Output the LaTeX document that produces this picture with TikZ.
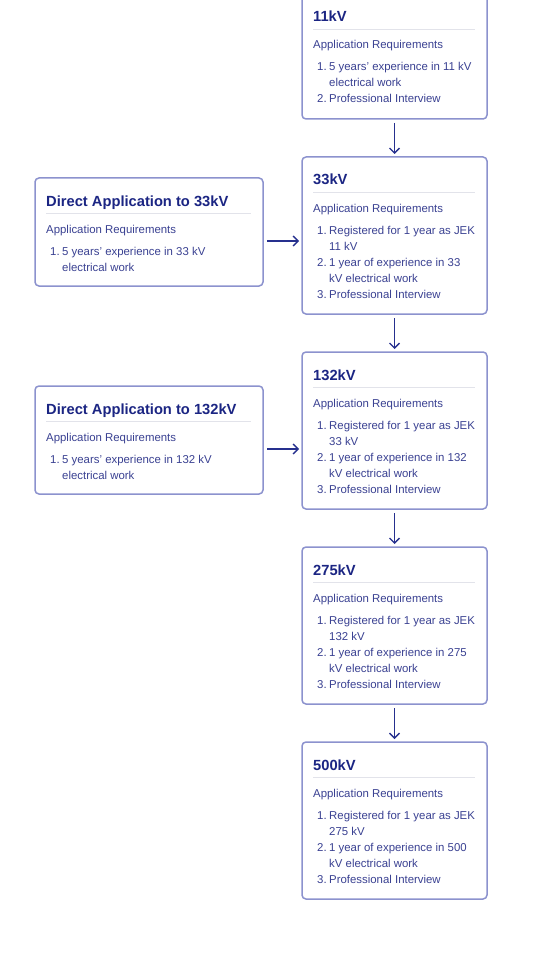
\documentclass[tikz,border=0pt]{standalone}
\usepackage{fontspec}
\setmainfont{Liberation Sans}
\usetikzlibrary{arrows.meta}
\definecolor{ttl}{HTML}{1B2583}
\definecolor{bdy}{HTML}{3A4192}
\definecolor{brd}{HTML}{8C92CE}
\definecolor{sep}{HTML}{E2E3EA}
\definecolor{arw}{HTML}{26308E}
\tikzset{
  box/.style={draw=brd, line width=1.5pt, rounded corners=4pt, fill=white, inner sep=0pt, outer sep=0pt},
  ttlstyle/.style={font=\bfseries\fontsize{14.7}{16}\selectfont, text=ttl, inner sep=0pt, anchor=base west},
  bdystyle/.style={font=\fontsize{11.4}{16}\selectfont, text=bdy, inner sep=0pt, anchor=base west},
  seprule/.style={draw=sep, line width=0.9pt},
  arr/.style={draw=arw, line width=1.4pt, -{Straight Barb[length=5pt,width=10pt]}}
}
\newcommand\mybox[5]{\node[box, minimum width=#4, minimum height=#5, anchor=north west] (#1) at (#2,#3) {};}
\newcommand\mytxt[4]{\node[bdystyle] (#1) at ([shift={(#3)}]#2.north west) {#4};}
\newcommand\myttl[3]{\node[ttlstyle] (#1) at ([shift={(11,28)}]#2.north west) {#3};}
\newcommand\mysep[2]{\coordinate (#1a) at ([shift={(11,35)}]#2.north west); \coordinate (#1b) at ([shift={(-12,35)}]#2.north east); \draw[seprule] (#1a) -- (#1b);}
\begin{document}
\begin{tikzpicture}[x=1pt,y=-1pt]
\path[use as bounding box, fill=white] (0,0) rectangle (540,960);
% 11kV
\mybox{b11}{302}{-6}{185}{125}
\myttl{b11t}{b11}{11kV}
\mysep{b11s}{b11}
\mytxt{b11r}{b11}{11,55}{Application Requirements}
\mytxt{b11n1}{b11}{15,77}{1.}
\mytxt{b11i1}{b11}{27,77}{5 years’ experience in 11 kV}
\mytxt{b11i1b}{b11}{27,93}{electrical work}
\mytxt{b11n2}{b11}{15,109}{2.}
\mytxt{b11i2}{b11}{27,109}{Professional Interview}
% 33kV
\mybox{b33}{302}{157}{185}{157}
\myttl{b33t}{b33}{33kV}
\mysep{b33s}{b33}
\mytxt{b33r}{b33}{11,55}{Application Requirements}
\mytxt{b33n1}{b33}{15,77}{1.}
\mytxt{b33i1}{b33}{27,77}{Registered for 1 year as JEK}
\mytxt{b33i1b}{b33}{27,93}{11 kV}
\mytxt{b33n2}{b33}{15,109}{2.}
\mytxt{b33i2}{b33}{27,109}{1 year of experience in 33}
\mytxt{b33i2b}{b33}{27,125}{kV electrical work}
\mytxt{b33n3}{b33}{15,141}{3.}
\mytxt{b33i3}{b33}{27,141}{Professional Interview}
% Direct 33
\mybox{d33}{35}{178}{228}{108}
\myttl{d33t}{d33}{Direct Application to 33kV}
\mysep{d33s}{d33}
\mytxt{d33r}{d33}{11,55}{Application Requirements}
\mytxt{d33n1}{d33}{15,77}{1.}
\mytxt{d33i1}{d33}{27,77}{5 years’ experience in 33 kV}
\mytxt{d33i1b}{d33}{27,93}{electrical work}
% 132kV
\mybox{b132}{302}{352}{185}{157}
\myttl{b132t}{b132}{132kV}
\mysep{b132s}{b132}
\mytxt{b132r}{b132}{11,55}{Application Requirements}
\mytxt{b132n1}{b132}{15,77}{1.}
\mytxt{b132i1}{b132}{27,77}{Registered for 1 year as JEK}
\mytxt{b132i1b}{b132}{27,93}{33 kV}
\mytxt{b132n2}{b132}{15,109}{2.}
\mytxt{b132i2}{b132}{27,109}{1 year of experience in 132}
\mytxt{b132i2b}{b132}{27,125}{kV electrical work}
\mytxt{b132n3}{b132}{15,141}{3.}
\mytxt{b132i3}{b132}{27,141}{Professional Interview}
% Direct 132
\mybox{d132}{35}{386}{228}{108}
\myttl{d132t}{d132}{Direct Application to 132kV}
\mysep{d132s}{d132}
\mytxt{d132r}{d132}{11,55}{Application Requirements}
\mytxt{d132n1}{d132}{15,77}{1.}
\mytxt{d132i1}{d132}{27,77}{5 years’ experience in 132 kV}
\mytxt{d132i1b}{d132}{27,93}{electrical work}
% 275kV
\mybox{b275}{302}{547}{185}{157}
\myttl{b275t}{b275}{275kV}
\mysep{b275s}{b275}
\mytxt{b275r}{b275}{11,55}{Application Requirements}
\mytxt{b275n1}{b275}{15,77}{1.}
\mytxt{b275i1}{b275}{27,77}{Registered for 1 year as JEK}
\mytxt{b275i1b}{b275}{27,93}{132 kV}
\mytxt{b275n2}{b275}{15,109}{2.}
\mytxt{b275i2}{b275}{27,109}{1 year of experience in 275}
\mytxt{b275i2b}{b275}{27,125}{kV electrical work}
\mytxt{b275n3}{b275}{15,141}{3.}
\mytxt{b275i3}{b275}{27,141}{Professional Interview}
% 500kV
\mybox{b500}{302}{742}{185}{157}
\myttl{b500t}{b500}{500kV}
\mysep{b500s}{b500}
\mytxt{b500r}{b500}{11,55}{Application Requirements}
\mytxt{b500n1}{b500}{15,77}{1.}
\mytxt{b500i1}{b500}{27,77}{Registered for 1 year as JEK}
\mytxt{b500i1b}{b500}{27,93}{275 kV}
\mytxt{b500n2}{b500}{15,109}{2.}
\mytxt{b500i2}{b500}{27,109}{1 year of experience in 500}
\mytxt{b500i2b}{b500}{27,125}{kV electrical work}
\mytxt{b500n3}{b500}{15,141}{3.}
\mytxt{b500i3}{b500}{27,141}{Professional Interview}
% arrows
\draw[arr] ([yshift=-4pt]b11.south) -- ([yshift=3pt]b33.north);
\draw[arr] ([yshift=-4pt]b33.south) -- ([yshift=3pt]b132.north);
\draw[arr] ([yshift=-4pt]b132.south) -- ([yshift=3pt]b275.north);
\draw[arr] ([yshift=-4pt]b275.south) -- ([yshift=3pt]b500.north);
\coordinate (a33) at ([shift={(4pt,-9pt)}]d33.east);
\draw[arr, shorten >=3pt] (a33) -- (a33 -| b33.west);
\coordinate (a132) at ([shift={(4pt,-9pt)}]d132.east);
\draw[arr, shorten >=3pt] (a132) -- (a132 -| b132.west);
\end{tikzpicture}
\end{document}
